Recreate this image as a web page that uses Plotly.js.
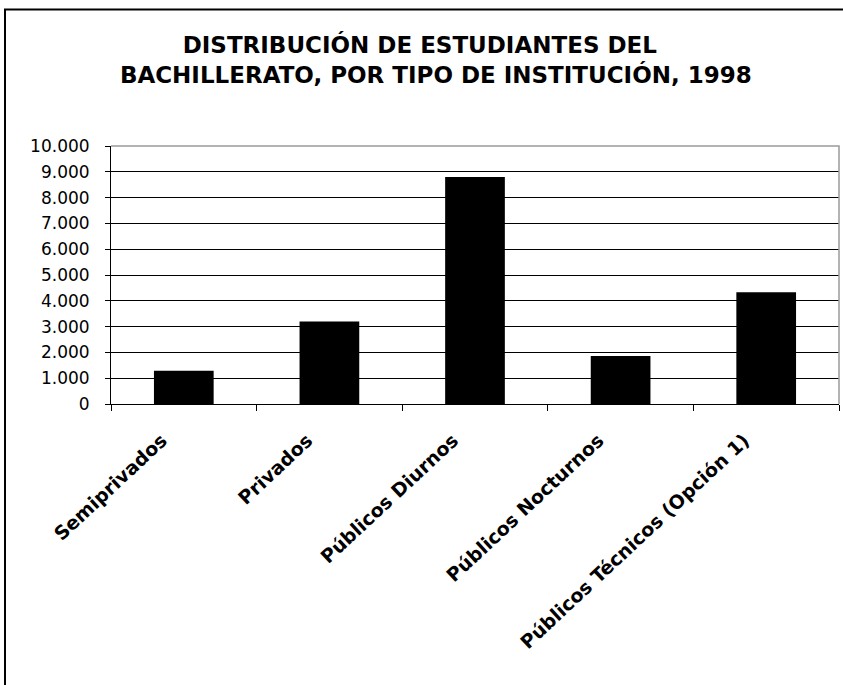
<!DOCTYPE html>
<html>
<head>
<meta charset="utf-8">
<script src="https://cdn.plot.ly/plotly-3.0.1.min.js"></script>
<style>
  html, body { margin: 0; padding: 0; background: #ffffff; }
  #chart { width: 843px; height: 685px; }
</style>
</head>
<body>
<div id="chart"></div>
<script>
// Data
var categories = [
  "Semiprivados",
  "Privados",
  "Públicos Diurnos",
  "Públicos Nocturnos",
  "Públicos Técnicos (Opción 1)"
];
var students = [1290, 3200, 8800, 1860, 4330];
var yTickVals = [0, 1000, 2000, 3000, 4000, 5000, 6000, 7000, 8000, 9000, 10000];
var titleLines = [
  "DISTRIBUCIÓN DE ESTUDIANTES DEL",
  "BACHILLERATO, POR TIPO DE INSTITUCIÓN, 1998"
];

var trace = {
  type: "bar",
  x: categories,
  y: students,
  marker: { color: "#000000", line: { color: "#000000", width: 0 } },
  hoverinfo: "x+y"
};

var layout = {
  width: 843,
  height: 685,
  paper_bgcolor: "#ffffff",
  plot_bgcolor: "#ffffff",
  separators: ",.",
  showlegend: false,
  bargap: 0.59,
  margin: { l: 111, r: 4, t: 146, b: 281, pad: 0 },
  title: {
    text: titleLines[0] + "\u00a0\u00a0\u00a0\u00a0<br>" + titleLines[1],
    font: { family: "DejaVu Sans", size: 23, color: "#000000", weight: "bold" },
    xref: "container",
    yref: "container",
    x: 0.517,
    xanchor: "center",
    y: 0.922,
    yanchor: "top"
  },
  xaxis: {
    type: "category",
    showgrid: false,
    zeroline: false,
    showline: true,
    linecolor: "#000000",
    linewidth: 1,
    ticks: "outside",
    tickson: "boundaries",
    ticklen: 6,
    tickwidth: 1,
    tickcolor: "#000000",
    tickangle: -43,
    ticklabelstandoff: 17,
    ticklabelshift: -22,
    automargin: false,
    tickfont: { family: "DejaVu Sans", size: 19, color: "#000000", weight: "bold" }
  },
  yaxis: {
    range: [0, 10000],
    tickvals: yTickVals,
    tickformat: ",d",
    showgrid: true,
    gridcolor: "#000000",
    gridwidth: 1,
    zeroline: false,
    showline: true,
    linecolor: "#000000",
    linewidth: 1,
    ticks: "outside",
    ticklen: 5,
    tickwidth: 1,
    tickcolor: "#000000",
    ticklabelstandoff: 12,
    automargin: false,
    tickfont: { family: "DejaVu Sans", size: 17, color: "#000000" }
  },
  shapes: [
    {
      type: "path",
      xref: "paper", yref: "paper",
      path: "M 0 1 L 1 1 L 1 0",
      line: { color: "#9a9a9a", width: 1.5 },
      layer: "above"
    },
    {
      type: "rect",
      xref: "paper", yref: "paper",
      x0: -0.1456, x1: 1.3, y0: -1.5, y1: 1.529,
      line: { color: "#000000", width: 2 },
      fillcolor: "rgba(0,0,0,0)",
      layer: "below"
    }
  ]
};

Plotly.newPlot("chart", [trace], layout, { displayModeBar: false, responsive: false });
</script>
</body>
</html>
